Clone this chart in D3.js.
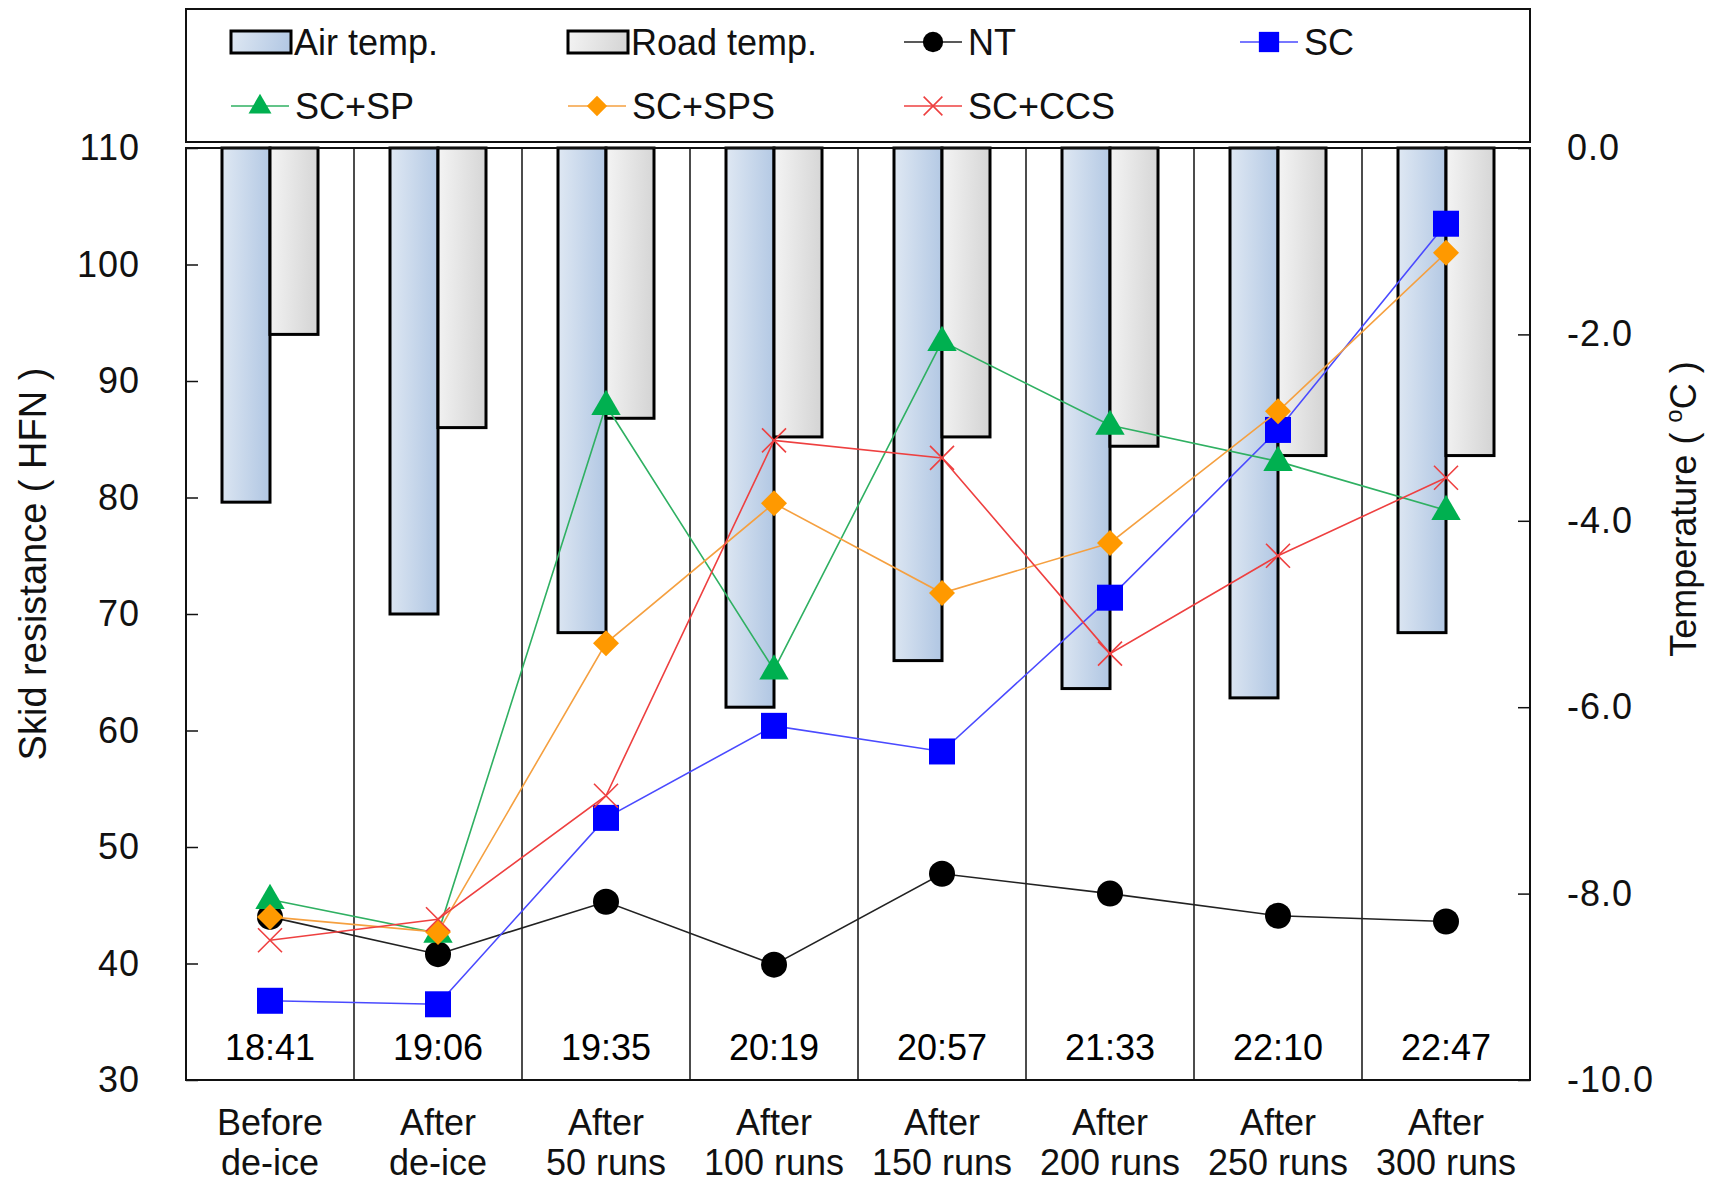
<!DOCTYPE html>
<html>
<head>
<meta charset="utf-8">
<script src="https://cdn.jsdelivr.net/npm/d3@7"></script>
<style>
  body { margin: 0; background: #fff; }
  svg { display: block; font-family: 'Liberation Sans', Arial, sans-serif; }
</style>
</head>
<body>
<svg id="chart"></svg>
<script>
'use strict'

const WIDTH = 1716;
const HEIGHT = 1185;

// data
const stages = ['Before de-ice', 'After de-ice', 'After 50 runs', 'After 100 runs',
  'After 150 runs', 'After 200 runs', 'After 250 runs', 'After 300 runs'];
const times = ['18:41', '19:06', '19:35', '20:19', '20:57', '21:33', '22:10', '22:47'];

const airTemp = [-3.8, -5.0, -5.2, -6.0, -5.5, -5.8, -5.9, -5.2];
const roadTemp = [-2.0, -3.0, -2.9, -3.1, -3.1, -3.2, -3.3, -3.3];

const nt = [44.0, 40.8, 45.3, 39.9, 47.7, 46.0, 44.1, 43.6];
const sc = [36.8, 36.5, 52.5, 60.4, 58.2, 71.4, 85.8, 103.5];
const scSp = [45.5, 42.6, 87.9, 65.2, 93.4, 86.2, 83.1, 78.9];
const scSps = [44.0, 42.7, 67.5, 79.5, 71.8, 76.1, 87.4, 101.0];
const scCcs = [42.0, 43.8, 54.4, 84.9, 83.4, 66.6, 75.0, 81.7];

const hfnTicks = [30, 40, 50, 60, 70, 80, 90, 100, 110];
const tempTicks = [0, -2, -4, -6, -8, -10];
const tempTickLabels = ['0.0', '-2.0', '-4.0', '-6.0', '-8.0', '-10.0'];

const LEFT = 186, RIGHT = 1530, TOP = 148, BOTTOM = 1080;
const BAR_W = 48;
const FONT = 36;

const svg = d3.select('#chart').attr('width', WIDTH).attr('height', HEIGHT);

const defs = svg.append('defs');
function gradient(id, from, to) {
  const g = defs.append('linearGradient').attr('id', id)
    .attr('x1', '0%').attr('y1', '0%').attr('x2', '100%').attr('y2', '10%');
  g.append('stop').attr('offset', '0%').attr('stop-color', from);
  g.append('stop').attr('offset', '100%').attr('stop-color', to);
}
gradient('airGrad', '#dfe8f3', '#b4c9e4');
gradient('roadGrad', '#f4f4f4', '#d6d6d6');

const xScale = d3.scaleBand().domain(stages).range([LEFT, RIGHT]).padding(0);
const yScale = d3.scaleLinear().domain([30, 110]).range([BOTTOM, TOP]);
const tScale = d3.scaleLinear().domain([-10, 0]).range([BOTTOM, TOP]);
const cx = d => xScale(d) + xScale.bandwidth() / 2;

// category separators
svg.append('g').selectAll('line').data(stages.slice(1)).enter().append('line')
  .attr('x1', d => xScale(d)).attr('x2', d => xScale(d))
  .attr('y1', TOP).attr('y2', BOTTOM)
  .attr('stroke', '#111').attr('stroke-width', 1.5);

// temperature bars hang from 0 °C
const bars = svg.append('g');
bars.selectAll('rect.air').data(airTemp).enter().append('rect').attr('class', 'air')
  .attr('x', (d, i) => cx(stages[i]) - BAR_W)
  .attr('y', tScale(0))
  .attr('width', BAR_W)
  .attr('height', d => tScale(d) - tScale(0))
  .attr('fill', 'url(#airGrad)').attr('stroke', '#000').attr('stroke-width', 3);
bars.selectAll('rect.road').data(roadTemp).enter().append('rect').attr('class', 'road')
  .attr('x', (d, i) => cx(stages[i]))
  .attr('y', tScale(0))
  .attr('width', BAR_W)
  .attr('height', d => tScale(d) - tScale(0))
  .attr('fill', 'url(#roadGrad)').attr('stroke', '#000').attr('stroke-width', 3);

// time labels inside the plot
svg.append('g').selectAll('text').data(times).enter().append('text')
  .attr('x', (d, i) => cx(stages[i]))
  .attr('y', 1060)
  .attr('text-anchor', 'middle')
  .attr('font-size', FONT)
  .text(d => d);

// marker shapes
function markerPath(type, s) {
  if (type === 'circle') return d3.symbol(d3.symbolCircle, Math.PI * s * s)();
  if (type === 'square') return d3.symbol(d3.symbolSquare, 4 * s * s)();
  if (type === 'triangle') {
    const h = s * 1.8;
    return `M0,${-h * 0.62}L${s * 1.05},${h * 0.38}L${-s * 1.05},${h * 0.38}Z`;
  }
  if (type === 'diamond') return `M0,${-s}L${s},0L0,${s}L${-s},0Z`;
  return `M${-s},${-s}L${s},${s}M${-s},${s}L${s},${-s}`;
}

const series = [
  { name: 'NT', values: nt, line: '#222', fill: '#000', shape: 'circle', size: 13 },
  { name: 'SC', values: sc, line: '#4a4aff', fill: '#0000ff', shape: 'square', size: 13 },
  { name: 'SC+SP', values: scSp, line: '#2fb062', fill: '#00b050', shape: 'triangle', size: 14 },
  { name: 'SC+SPS', values: scSps, line: '#f5a040', fill: '#ff9900', shape: 'diamond', size: 13 },
  { name: 'SC+CCS', values: scCcs, line: '#ee4040', fill: 'none', shape: 'x', size: 12 }
];

const line = d3.line().x((d, i) => cx(stages[i])).y(d => yScale(d));

series.forEach(s => {
  const g = svg.append('g');
  g.append('path').datum(s.values)
    .attr('d', line)
    .attr('fill', 'none').attr('stroke', s.line).attr('stroke-width', 1.6);
  g.selectAll('path.m').data(s.values).enter().append('path').attr('class', 'm')
    .attr('transform', (d, i) => `translate(${cx(stages[i])},${yScale(d)})`)
    .attr('d', markerPath(s.shape, s.size))
    .attr('fill', s.fill)
    .attr('stroke', s.shape === 'x' ? s.line : 'none')
    .attr('stroke-width', 1.6);
});

// plot frame
svg.append('rect')
  .attr('x', LEFT).attr('y', TOP).attr('width', RIGHT - LEFT).attr('height', BOTTOM - TOP)
  .attr('fill', 'none').attr('stroke', '#111').attr('stroke-width', 2);

// axes, ticks pointing inward
const leftAxis = d3.axisLeft(yScale).tickValues(hfnTicks).tickSizeInner(-12).tickSizeOuter(0).tickPadding(46);
svg.append('g').attr('id', 'left-axis')
  .attr('transform', `translate(${LEFT},0)`)
  .call(leftAxis);

const rightAxis = d3.axisRight(tScale).tickValues(tempTicks).tickSizeInner(-12).tickSizeOuter(0).tickPadding(37)
  .tickFormat((d, i) => tempTickLabels[i]);
svg.append('g').attr('id', 'right-axis')
  .attr('transform', `translate(${RIGHT},0)`)
  .call(rightAxis);

svg.selectAll('#left-axis, #right-axis')
  .attr('font-family', null).attr('font-size', null);
svg.selectAll('#left-axis .domain, #right-axis .domain').remove();
svg.selectAll('#left-axis line, #right-axis line').attr('stroke', '#111').attr('stroke-width', 1.5);
svg.selectAll('#left-axis text, #right-axis text')
  .attr('font-size', FONT).attr('fill', '#111').attr('letter-spacing', 1);

// category labels below
const catG = svg.append('g');
stages.forEach(s => {
  const parts = s.split(' ');
  const first = parts[0];
  const rest = parts.slice(1).join(' ');
  const t = catG.append('text')
    .attr('x', cx(s)).attr('text-anchor', 'middle').attr('font-size', FONT).attr('fill', '#111');
  t.append('tspan').attr('x', cx(s)).attr('y', 1135).text(first);
  t.append('tspan').attr('x', cx(s)).attr('y', 1175).text(rest);
});

// axis titles
svg.append('text')
  .attr('transform', `translate(46,${(TOP + BOTTOM) / 2 - 50}) rotate(-90)`)
  .attr('text-anchor', 'middle').attr('font-size', 38).attr('fill', '#111')
  .text('Skid resistance ( HFN )');

const rt = svg.append('text')
  .attr('transform', `translate(1696,${(TOP + BOTTOM) / 2 - 105}) rotate(-90)`)
  .attr('text-anchor', 'middle').attr('font-size', FONT).attr('fill', '#111');
rt.append('tspan').text('Temperature ( ');
rt.append('tspan').attr('font-size', 24).attr('dy', -14).text('o');
rt.append('tspan').attr('dy', 14).text('C )');

// legend
const legend = svg.append('g');
legend.append('rect')
  .attr('x', LEFT).attr('y', 9).attr('width', RIGHT - LEFT).attr('height', 133)
  .attr('fill', '#fff').attr('stroke', '#111').attr('stroke-width', 2);

const colX = [231, 568, 904, 1240];
const rowY = [42, 106];
const legendItems = [
  { label: 'Air temp.', bar: 'airGrad' },
  { label: 'Road temp.', bar: 'roadGrad' }
].concat(series.map(s => ({ label: s.name, s: s })));

legendItems.forEach((item, i) => {
  const x = colX[i % 4];
  const y = rowY[Math.floor(i / 4)];
  const g = legend.append('g');
  if (item.bar) {
    g.append('rect').attr('x', x).attr('y', y - 11).attr('width', 60).attr('height', 22)
      .attr('fill', `url(#${item.bar})`).attr('stroke', '#000').attr('stroke-width', 3);
    g.append('text').attr('x', x + 63).attr('y', y + 13).attr('font-size', FONT).attr('fill', '#111')
      .text(item.label);
  } else {
    const s = item.s;
    g.append('line').attr('x1', x).attr('x2', x + 58).attr('y1', y).attr('y2', y)
      .attr('stroke', s.line).attr('stroke-width', 1.6);
    g.append('path').attr('transform', `translate(${x + 29},${y})`)
      .attr('d', markerPath(s.shape, s.size * 0.78))
      .attr('fill', s.fill)
      .attr('stroke', s.shape === 'x' ? s.line : 'none').attr('stroke-width', 1.6);
    g.append('text').attr('x', x + 64).attr('y', y + 13).attr('font-size', FONT).attr('fill', '#111')
      .text(item.label);
  }
});
</script>
</body>
</html>
